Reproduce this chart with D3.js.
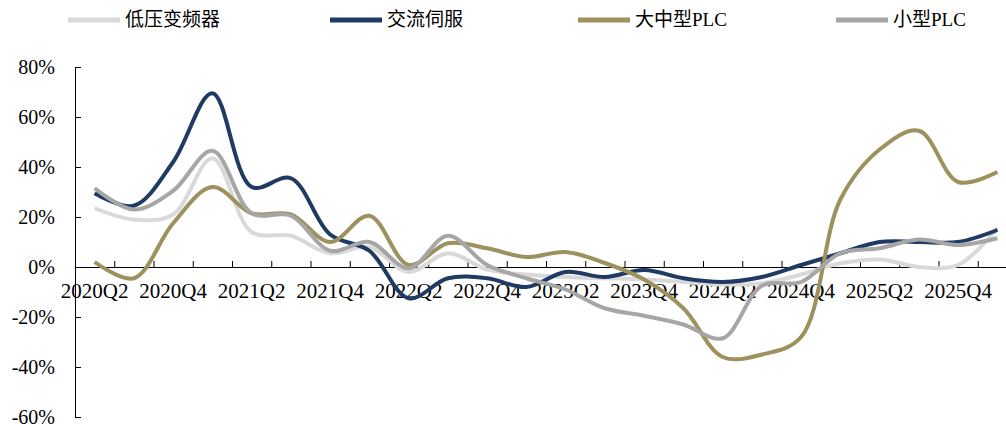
<!DOCTYPE html>
<meta charset="utf-8">
<style>
body { margin: 0; background: #fff; }
svg { display: block; }
.axis path, .axis line { stroke: #000; stroke-width: 1; }
.axis text { font-family: "Liberation Serif", "Times New Roman", serif; fill: #000; }
.legend text { font-family: "Liberation Serif", "Noto Sans CJK SC", serif; font-size: 19px; fill: #000; }
</style>
<body>
<script src="https://d3js.org/d3.v7.min.js"></script>
<script>

var quarters = ["2020Q2","2020Q3","2020Q4","2021Q1","2021Q2","2021Q3","2021Q4","2022Q1",
                "2022Q2","2022Q3","2022Q4","2023Q1","2023Q2","2023Q3","2023Q4","2024Q1",
                "2024Q2","2024Q3","2024Q4","2025Q1","2025Q2","2025Q3","2025Q4","2026Q1"];

var seriesNames = ["低压变频器", "交流伺服", "大中型PLC", "小型PLC"];

var lowVfd   = [23.5, 19, 21, 43.5, 14, 12.5, 5.5, 8, -2, 5.5, -1, -3, -4, -4.5, -5, -6, -7, -6.5, -3, 1.5, 3, 0, 0.8, 15.5];
var servo    = [29.5, 24.5, 42, 69.5, 32, 35.5, 13, 6.5, -12.5, -4.5, -4.5, -8, -2, -4, -1.2, -4.5, -6, -4, 0.8, 5.5, 10, 10, 10, 14.8];
var largePlc = [2, -4.5, 17.5, 32, 21.5, 21, 10, 20.5, 0.8, 9.5, 7.5, 4, 6, 1.6, -5, -16.5, -36, -35, -28, 27, 47, 54.5, 34, 38];
var smallPlc = [31.5, 23, 30.5, 46.5, 21.5, 20.5, 6.5, 10, -0.5, 12.5, 0.8, -4.5, -9, -16.5, -19.5, -23, -28.5, -7.5, -6, 5.5, 7.5, 11, 8.8, 11.5];

var yTicks = [-60, -40, -20, 0, 20, 40, 60, 80];

var colors = ["#d9d9d9", "#1f3a63", "#9d925e", "#a6a6a6"];
var allSeries = [lowVfd, servo, largePlc, smallPlc];

var w = 1006, h = 424;
var left = 75, bw = 39.25;

var svg = d3.select("body").append("svg")
  .attr("width", w)
  .attr("height", h);

var x = d3.scaleBand()
  .domain(quarters)
  .range([left, left + bw * quarters.length])
  .padding(0);

var xb = d3.scaleLinear()
  .domain([0, quarters.length])
  .range([left, left + bw * quarters.length]);

var y = d3.scaleLinear()
  .domain([-60, 80])
  .range([417, 67]);

// y axis
svg.append("g")
  .attr("class", "axis")
  .attr("transform", "translate(" + left + ",0)")
  .call(d3.axisLeft(y).tickValues(yTicks).tickSize(-6).tickSizeOuter(0).tickPadding(20)
    .tickFormat(function(d) { return d + "%"; }))
  .selectAll("text").style("font-size", "20px");

// x axis: boundary ticks
svg.append("g")
  .attr("class", "axis")
  .attr("transform", "translate(0," + y(0) + ")")
  .call(d3.axisBottom(xb).tickValues(d3.range(1, quarters.length + 1)).tickSize(-6).tickSizeOuter(0).tickFormat(""));

// x axis labels every other quarter
var xl = svg.append("g")
  .attr("class", "axis")
  .attr("transform", "translate(0," + y(0) + ")")
  .call(d3.axisBottom(x).tickValues(quarters.filter(function(d, i) { return i % 2 == 0; }))
    .tickSize(0).tickPadding(16));
xl.select(".domain").remove();
xl.selectAll("text").style("font-size", "21px");

var line = d3.line()
  .x(function(d, i) { return x(quarters[i]) + bw / 2; })
  .y(function(d) { return y(d); })
  .curve(d3.curveCatmullRom);

allSeries.forEach(function(s, k) {
  svg.append("path")
    .datum(s)
    .attr("d", line)
    .attr("fill", "none")
    .attr("stroke", colors[k])
    .attr("stroke-width", 4)
    .attr("stroke-linejoin", "round");
});

// legend
var legendX = [68, 330, 578, 836];
var lg = svg.append("g").attr("class", "legend");
seriesNames.forEach(function(name, k) {
  lg.append("line")
    .attr("x1", legendX[k]).attr("x2", legendX[k] + 52)
    .attr("y1", 20).attr("y2", 20)
    .attr("stroke", colors[k])
    .attr("stroke-width", 5);
  lg.append("text")
    .attr("x", legendX[k] + 57)
    .attr("y", 26)
    .text(name);
});

</script>
</body>
